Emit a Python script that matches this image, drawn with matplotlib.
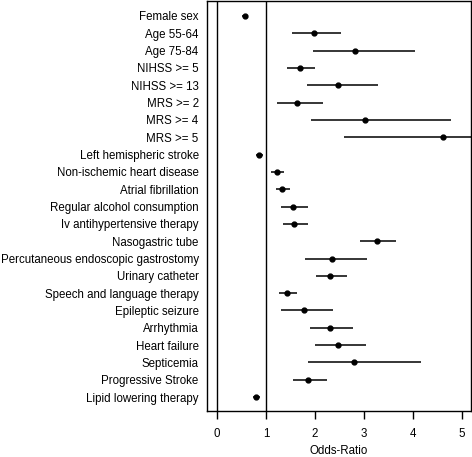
import matplotlib.pyplot as plt
import numpy as np

plt.rcParams['font.family'] = ['Liberation Sans', 'DejaVu Sans']

labels = ['Female sex', 'Age 55-64', 'Age 75-84', 'NIHSS >= 5', 'NIHSS >= 13',
          'MRS >= 2', 'MRS >= 4', 'MRS >= 5', 'Left hemispheric stroke',
          'Non-ischemic heart disease', 'Atrial fibrillation',
          'Regular alcohol consumption', 'Iv antihypertensive therapy',
          'Nasogastric tube', 'Percutaneous endoscopic gastrostomy',
          'Urinary catheter', 'Speech and language therapy', 'Epileptic seizure',
          'Arrhythmia', 'Heart failure', 'Septicemia', 'Progressive Stroke',
          'Lipid lowering therapy']
odds = [0.57, 1.98, 2.81, 1.70, 2.46, 1.63, 3.02, 4.61, 0.86, 1.22, 1.33, 1.55,
        1.58, 3.26, 2.35, 2.31, 1.44, 1.77, 2.30, 2.47, 2.79, 1.86, 0.80]
ci_low = [0.52, 1.53, 1.97, 1.44, 1.84, 1.23, 1.91, 2.60, 0.80, 1.11, 1.20, 1.31,
          1.35, 2.91, 1.80, 2.03, 1.27, 1.31, 1.90, 2.00, 1.86, 1.56, 0.73]
ci_high = [0.63, 2.54, 4.03, 2.01, 3.29, 2.17, 4.77, 6.00, 0.94, 1.36, 1.49, 1.85,
           1.85, 3.65, 3.07, 2.65, 1.64, 2.36, 2.78, 3.05, 4.17, 2.24, 0.88]

fig = plt.figure(figsize=(4.72, 4.57), dpi=100)
ax = fig.add_axes([207/472, 1 - 411/457, 264/472, 410/457])

y = np.arange(len(labels))
ax.hlines(y, ci_low, ci_high, color='black', lw=1.1)
ax.plot(odds, y, 'o', color='black', ms=3.5)
ax.axvline(0, color='black', lw=1)
ax.axvline(1, color='black', lw=1)

ax.set_xlim(-0.2, 5.18)
ax.set_ylim(len(labels) - 1 + 0.8, -0.86)
ax.set_yticks(y)
ax.set_yticklabels(labels, fontsize=8.3)
ax.tick_params(axis='y', length=0, pad=6)
ax.set_xticks(range(6))
ax.tick_params(axis='x', length=6, width=1, labelsize=8.3, pad=6)
ax.set_xlabel('Odds-Ratio', fontsize=8.3, labelpad=4)
for s in ax.spines.values():
    s.set_linewidth(1)

fig.savefig('out.png', dpi=100)
